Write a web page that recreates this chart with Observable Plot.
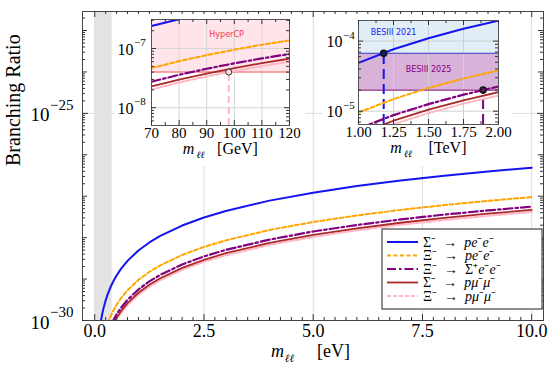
<!DOCTYPE html>
<html><head><meta charset="utf-8">
<script src="https://cdn.jsdelivr.net/npm/d3@7"></script>
<script src="https://cdn.jsdelivr.net/npm/@observablehq/plot@0.6"></script>
<style>
body{margin:0;background:#fff;}
#wrap{position:relative;width:555px;height:370px;overflow:hidden;background:#fff;}
#wrap > svg{position:absolute;}
</style>
</head><body><div id="wrap"></div>
<script>
// ---------------- data ----------------
// Main panel: m_ll in eV, branching ratio
const mSigmaPee  = [0.14,0.15,0.17,0.2,0.25,0.3,0.35,0.4,0.45,0.5,0.6,0.75,1,1.25,1.5,2,2.5,3,4,5,6,7,8,9,10];
const brSigmaPee = [9.6e-31,1.10e-30,1.42e-30,1.96e-30,3.06e-30,4.41e-30,6.0e-30,7.83e-30,9.91e-30,1.22e-29,1.76e-29,2.75e-29,4.90e-29,7.66e-29,1.10e-28,1.96e-28,3.06e-28,4.41e-28,7.83e-28,1.22e-27,1.76e-27,2.40e-27,3.13e-27,3.96e-27,4.90e-27];
const mXiPee  = [0.3,0.32,0.35,0.4,0.45,0.5,0.6,0.75,1,1.25,1.5,2,2.5,3,4,5,6,7,8,9,10];
const brXiPee = [8.59e-31,9.77e-31,1.17e-30,1.53e-30,1.93e-30,2.39e-30,3.44e-30,5.37e-30,9.55e-30,1.49e-29,2.15e-29,3.82e-29,5.97e-29,8.59e-29,1.53e-28,2.39e-28,3.44e-28,4.68e-28,6.11e-28,7.73e-28,9.55e-28];
const mXiSee  = [0.4,0.42,0.45,0.5,0.6,0.75,1,1.25,1.5,2,2.5,3,4,5,6,7,8,9,10];
const brXiSee = [8.99e-31,9.91e-31,1.14e-30,1.41e-30,2.02e-30,3.16e-30,5.62e-30,8.79e-30,1.26e-29,2.25e-29,3.52e-29,5.06e-29,8.99e-29,1.41e-28,2.02e-28,2.75e-28,3.60e-28,4.55e-28,5.62e-28];
const mSigmaPmm  = [0.45,0.47,0.5,0.6,0.75,1,1.25,1.5,2,2.5,3,4,5,6,7,8,9,10];
const brSigmaPmm = [9.46e-31,1.03e-30,1.17e-30,1.68e-30,2.63e-30,4.68e-30,7.31e-30,1.05e-29,1.87e-29,2.92e-29,4.21e-29,7.48e-29,1.17e-28,1.68e-28,2.29e-28,2.99e-28,3.78e-28,4.68e-28];
const mXiPmm  = [0.47,0.5,0.6,0.75,1,1.25,1.5,2,2.5,3,4,5,6,7,8,9,10];
const brXiPmm = [9.20e-31,1.04e-30,1.50e-30,2.34e-30,4.17e-30,6.52e-30,9.38e-30,1.67e-29,2.61e-29,3.75e-29,6.67e-29,1.04e-28,1.50e-28,2.04e-28,2.67e-28,3.37e-28,4.17e-28];
const excludedBandEV = [0, 0.4];

// Inset 1: m_ll in GeV
const mGeV = [70,80,90,100,110,120];
const brSigmaPeeGeV = [2.40e-7,3.13e-7,3.96e-7,4.90e-7,5.93e-7,7.05e-7];
const brXiPeeGeV    = [4.68e-8,6.11e-8,7.73e-8,9.55e-8,1.16e-7,1.37e-7];
const brXiSeeGeV    = [2.75e-8,3.60e-8,4.55e-8,5.62e-8,6.81e-8,8.09e-8];
const brSigmaPmmGeV = [2.29e-8,2.99e-8,3.78e-8,4.68e-8,5.66e-8,6.73e-8];
const brXiPmmGeV    = [2.04e-8,2.67e-8,3.37e-8,4.17e-8,5.05e-8,6.00e-8];
const hyperCPLimit = 4.0e-8, hyperCPMass = 98;

// Inset 2: m_ll in TeV
const mTeV = [1,1.25,1.5,1.75,2];
const brSigmaPeeTeV = [4.90e-5,7.66e-5,1.10e-4,1.50e-4,1.96e-4];
const brXiPeeTeV    = [9.55e-6,1.49e-5,2.15e-5,2.92e-5,3.82e-5];
const brXiSeeTeV    = [5.62e-6,8.79e-6,1.26e-5,1.72e-5,2.25e-5];
const brSigmaPmmTeV = [4.68e-6,7.31e-6,1.05e-5,1.43e-5,1.87e-5];
const brXiPmmTeV    = [4.17e-6,6.52e-6,9.38e-6,1.28e-5,1.67e-5];
const besIII2021Limit = 6.7e-5, besIII2021Mass = 1.18;
const besIII2025Limit = 2.0e-5, besIII2025Mass = 1.89;

// ticks & labels
const xTicksEV = [0, 2.5, 5, 7.5, 10];
const xTickLabelsEV = ["0.0","2.5","5.0","7.5","10.0"];
const yTicksMain = [1e-30, 1e-25];
const yTickExpMain = ["−30","−25"];
const xTicksGeV = [70,80,90,100,110,120];
const xTickLabelsGeV = ["70","80","90","100","110","120"];
const yTicksGeV = [1e-8, 1e-7];
const yTickExpGeV = ["−8","−7"];
const xTicksTeV = [1,1.25,1.5,1.75,2];
const xTickLabelsTeV = ["1.00","1.25","1.50","1.75","2.00"];
const yTicksTeV = [1e-5, 1e-4];
const yTickExpTeV = ["−5","−4"];

const seriesNames = ["Σ⁻ → pe⁻e⁻","Ξ⁻ → pe⁻e⁻","Ξ⁻ → Σ⁺e⁻e⁻","Σ⁻ → pμ⁻μ⁻","Ξ⁻ → pμ⁻μ⁻"];

// ---------------- styles ----------------
const serif = "Liberation Serif";
const sans = "DejaVu Sans";
const styles = [
  {stroke:"#1414f0", strokeWidth:2},
  {stroke:"#ffa500", strokeWidth:2, strokeDasharray:"4,2.5"},
  {stroke:"#800080", strokeWidth:2.2, strokeDasharray:"9,3,2.5,3"},
  {stroke:"#a8282c", strokeWidth:1.8},
  {stroke:"#ffb6c1", strokeWidth:2, strokeDasharray:"4,2"}
];
const drawOrder = [4,3,2,1,0];

const tbl = (xs, ys) => xs.map((x,i)=>({x, y: ys[i]}));

function logMinor(lo, hi) {
  const out = [];
  for (let e = Math.floor(Math.log10(lo)); e <= Math.ceil(Math.log10(hi)); e++)
    for (let k = 2; k <= 9; k++) { const v = k * Math.pow(10, e); if (v > lo && v < hi) out.push(v); }
  return out;
}
function logDecades(lo, hi) {
  const out = [];
  for (let e = Math.ceil(Math.log10(lo)); e <= Math.floor(Math.log10(hi)); e++) out.push(Math.pow(10, e));
  return out;
}
function tickMarks(o) {
  const s = {stroke:"#333", strokeWidth:1};
  const m = [];
  for (const [vals, len] of o.xs) {
    m.push(Plot.tickX(vals, {x:d=>d, insetTop:o.ph-len, ...s}));
    m.push(Plot.tickX(vals, {x:d=>d, insetBottom:o.ph-len, ...s}));
  }
  for (const [vals, len] of o.ys) {
    m.push(Plot.tickY(vals, {y:d=>d, insetRight:o.pw-len, ...s}));
    m.push(Plot.tickY(vals, {y:d=>d, insetLeft:o.pw-len, ...s}));
  }
  return m;
}
function yLabels(ticks, exps, o) {
  return [
    Plot.text(ticks, {y:d=>d, text:()=>"10", frameAnchor:"left", textAnchor:"end", dx:o.dx, dy:o.dyBase, fontFamily:serif, fontSize:o.base, fill:"black"}),
    Plot.text(ticks, {y:d=>d, text:(d,i)=>exps[i], frameAnchor:"left", textAnchor:"start", dx:o.dx+0.5, dy:o.dyExp, fontFamily:serif, fontSize:o.exp, fill:"black"})
  ];
}
function xTitle(unit, o) {
  const f = {frameAnchor:"bottom", fontFamily:serif, fill:"black"};
  return [
    Plot.text(["m"], {...f, dx:o.m, dy:o.dy, fontStyle:"italic", fontSize:o.fs}),
    Plot.text(["ℓℓ"], {...f, dx:o.l, dy:o.dy+o.sub, fontStyle:"italic", fontSize:o.fs*0.62}),
    Plot.text([unit], {...f, dx:o.u, dy:o.dy, fontSize:o.fs})
  ];
}

const wrap = document.getElementById("wrap");

// ---------------- main panel ----------------
const mainDomainY = [1e-30, 2.88e-23];
const mainSeries = [tbl(mSigmaPee,brSigmaPee), tbl(mXiPee,brXiPee), tbl(mXiSee,brXiSee), tbl(mSigmaPmm,brSigmaPmm), tbl(mXiPmm,brXiPmm)];
const xMinorEV = d3.range(0.25, 10, 0.25).filter(v => !xTicksEV.includes(v));
const main = Plot.plot({
  width:555, height:370, marginLeft:82, marginRight:12, marginTop:11, marginBottom:50,
  x:{domain:[-0.28, 10.27], axis:null},
  y:{type:"log", domain:mainDomainY, axis:null},
  style:{background:"white"},
  marks:[
    Plot.ruleX(xTicksEV, {x:d=>d, stroke:"#dddddd"}),
    Plot.ruleY([1e-25], {y:d=>d, stroke:"#dddddd"}),
    Plot.rect([excludedBandEV], {x1:d=>d[0], x2:d=>d[1], fill:"#e3e3e3"}),
    ...drawOrder.map(k => Plot.line(mainSeries[k], {x:"x", y:"y", ...styles[k], clip:true})),
    Plot.frame({stroke:"#444"}),
    ...tickMarks({pw:461, ph:309,
      xs:[[xTicksEV,6],[xMinorEV,3]],
      ys:[[yTicksMain,6],[logDecades(...mainDomainY).filter(v=>!yTicksMain.includes(v)),5],[logMinor(...mainDomainY),3]]}),
    Plot.text(xTicksEV, {x:d=>d, text:(d,i)=>xTickLabelsEV[i], frameAnchor:"bottom", dy:16, fontFamily:serif, fontSize:18, fill:"black"}),
    ...yLabels(yTicksMain, yTickExpMain, {dx:-33, dyBase:2, dyExp:-8, base:19, exp:15}),
    Plot.text(["Branching Ratio"], {frameAnchor:"left", rotate:-90, dx:-69, fontFamily:serif, fontSize:20, fill:"black"}),
    ...xTitle("[eV]", {m:-35.5, l:-23.5, u:20.5, dy:36, sub:5, fs:18})
  ]
});
main.style.left = "0px"; main.style.top = "0px";
wrap.appendChild(main);

// ---------------- inset 1 (GeV) ----------------
const in1Y = [Math.pow(10,-8.3), Math.pow(10,-6.51)];
const in1Series = [tbl(mGeV,brSigmaPeeGeV), tbl(mGeV,brXiPeeGeV), tbl(mGeV,brXiSeeGeV), tbl(mGeV,brSigmaPmmGeV), tbl(mGeV,brXiPmmGeV)];
const inset1 = Plot.plot({
  width:190, height:152, marginLeft:36, marginRight:16, marginTop:5, marginBottom:41,
  x:{domain:[70,120], axis:null},
  y:{type:"log", domain:in1Y, axis:null},
  style:{background:"white"},
  marks:[
    Plot.rect([[hyperCPLimit, in1Y[1]]], {y1:d=>d[0], y2:d=>d[1], fill:"#ffe4e9"}),
    Plot.ruleX(xTicksGeV.slice(1,-1), {x:d=>d, stroke:"#d6d6d6"}),
    Plot.ruleY(yTicksGeV, {y:d=>d, stroke:"#d6d6d6"}),
    Plot.ruleY([hyperCPLimit], {y:d=>d, stroke:"#f4868a", strokeWidth:1.5}),
    Plot.ruleX([{m:hyperCPMass, br:hyperCPLimit}], {x:"m", y1:()=>in1Y[0], y2:"br", stroke:"#ffb6c1", strokeWidth:2, strokeDasharray:"7,4"}),
    ...drawOrder.map(k => Plot.line(in1Series[k], {x:"x", y:"y", ...styles[k], clip:true})),
    Plot.dot([{m:hyperCPMass, br:hyperCPLimit}], {x:"m", y:"br", r:3, stroke:"#333", strokeWidth:1, fill:"#fbe2e4"}),
    Plot.text([{m:97.2, br:1.74e-7, t:"HyperCP"}], {x:"m", y:"br", text:"t", fill:"#f03848", fontFamily:sans, fontSize:8}),
    Plot.frame({stroke:"#555"}),
    ...tickMarks({pw:138, ph:106,
      xs:[[xTicksGeV,5],[[75,85,95,105,115],3]],
      ys:[[yTicksGeV,5],[logMinor(...in1Y),3]]}),
    Plot.text(xTicksGeV, {x:d=>d, text:(d,i)=>xTickLabelsGeV[i], frameAnchor:"bottom", dy:12, fontFamily:serif, fontSize:15, fill:"black"}),
    ...yLabels(yTicksGeV, yTickExpGeV, {dx:-18, dyBase:1, dyExp:-6, base:16, exp:11}),
    ...xTitle("[GeV]", {m:-32, l:-20, u:17, dy:28, sub:4, fs:16})
  ]
});
inset1.style.left = "115px"; inset1.style.top = "14px";
wrap.appendChild(inset1);

// ---------------- inset 2 (TeV) ----------------
const in2Y = [Math.pow(10,-5.19), Math.pow(10,-3.706)];
const in2Series = [tbl(mTeV,brSigmaPeeTeV), tbl(mTeV,brXiPeeTeV), tbl(mTeV,brXiSeeTeV), tbl(mTeV,brSigmaPmmTeV), tbl(mTeV,brXiPmmTeV)];
const inset2 = Plot.plot({
  width:190, height:151, marginLeft:36, marginRight:14, marginTop:5, marginBottom:42,
  x:{domain:[1,2], axis:null},
  y:{type:"log", domain:in2Y, axis:null},
  style:{background:"white"},
  marks:[
    Plot.rect([[besIII2021Limit, in2Y[1]]], {y1:d=>d[0], y2:d=>d[1], fill:"#e1eef7"}),
    Plot.rect([[besIII2025Limit, besIII2021Limit]], {y1:d=>d[0], y2:d=>d[1], fill:"#d8b2d8"}),
    Plot.ruleX(xTicksTeV.slice(1,-1), {x:d=>d, stroke:"#d0d0d0"}),
    Plot.ruleY(yTicksTeV, {y:d=>d, stroke:"#d0d0d0"}),
    Plot.ruleY([besIII2021Limit], {y:d=>d, stroke:"#5a5ad0", strokeWidth:1.2}),
    Plot.ruleY([besIII2025Limit], {y:d=>d, stroke:"#8a288a", strokeWidth:1.2}),
    Plot.ruleX([{m:besIII2021Mass, br:besIII2021Limit}], {x:"m", y1:()=>in2Y[0], y2:"br", stroke:"#1414f0", strokeWidth:2, strokeDasharray:"10,5"}),
    Plot.ruleX([{m:besIII2025Mass, br:besIII2025Limit}], {x:"m", y1:()=>in2Y[0], y2:"br", stroke:"#800080", strokeWidth:2, strokeDasharray:"10,5"}),
    ...drawOrder.map(k => Plot.line(in2Series[k], {x:"x", y:"y", ...styles[k], clip:true})),
    Plot.dot([{m:besIII2021Mass, br:besIII2021Limit}], {x:"m", y:"br", r:3, stroke:"#111", fill:"#1a1a7a"}),
    Plot.dot([{m:besIII2025Mass, br:besIII2025Limit}], {x:"m", y:"br", r:3, stroke:"#111", fill:"#5e1a5e"}),
    Plot.text([{m:1.25, br:1.35e-4, t:"BESIII 2021"}], {x:"m", y:"br", text:"t", fill:"#2020e8", fontFamily:sans, fontSize:8}),
    Plot.text([{m:1.5, br:3.95e-5, t:"BESIII 2025"}], {x:"m", y:"br", text:"t", fill:"#800080", fontFamily:sans, fontSize:8}),
    Plot.frame({stroke:"#555"}),
    ...tickMarks({pw:140, ph:104,
      xs:[[xTicksTeV,5],[[1.125,1.375,1.625,1.875],3]],
      ys:[[yTicksTeV,5],[logMinor(...in2Y),3]]}),
    Plot.text(xTicksTeV, {x:d=>d, text:(d,i)=>xTickLabelsTeV[i], frameAnchor:"bottom", dy:12.5, fontFamily:serif, fontSize:15, fill:"black"}),
    ...yLabels(yTicksTeV, yTickExpTeV, {dx:-16, dyBase:1, dyExp:-6, base:16, exp:11}),
    ...xTitle("[TeV]", {m:-32.5, l:-20.5, u:19, dy:28, sub:4, fs:16})
  ]
});
inset2.style.left = "322px"; inset2.style.top = "15px";
wrap.appendChild(inset2);

// ---------------- legend ----------------
// each label: [text, italic?] pieces
const legendRich = [
  [["Σ⁻  →  ",0],["pe",1],["⁻",0],["e",1],["⁻",0]],
  [["Ξ⁻  →  ",0],["pe",1],["⁻",0],["e",1],["⁻",0]],
  [["Ξ⁻  →  Σ⁺",0],["e",1],["⁻",0],["e",1],["⁻",0]],
  [["Σ⁻  →  ",0],["pμ",1],["⁻",0],["μ",1],["⁻",0]],
  [["Ξ⁻  →  ",0],["pμ",1],["⁻",0],["μ",1],["⁻",0]]
];
const leg = d3.create("svg").attr("width",162).attr("height",82)
  .style("left","381px").style("top","228px").style("position","absolute");
leg.append("rect").attr("x",1).attr("y",1).attr("width",160).attr("height",80)
  .attr("fill","white").attr("stroke","#444").attr("stroke-width",1.2);
const rowY = [14, 27.5, 41, 54.5, 68];
seriesNames.forEach((name,i) => {
  const st = styles[i];
  leg.append("line").attr("x1",6).attr("x2",37).attr("y1",rowY[i]).attr("y2",rowY[i])
    .attr("stroke",st.stroke).attr("stroke-width",st.strokeWidth).attr("stroke-dasharray",st.strokeDasharray||null);
  const t = leg.append("text").attr("x",42).attr("y",rowY[i]+4.5)
    .attr("font-family",serif).attr("font-size",14).attr("fill","black")
    .attr("xml:space","preserve").style("white-space","pre");
  for (const [s,it] of legendRich[i]) {
    const sp = t.append("tspan").text(s);
    if (it) sp.attr("font-style","italic");
  }
});
wrap.appendChild(leg.node());
</script>
</body></html>
